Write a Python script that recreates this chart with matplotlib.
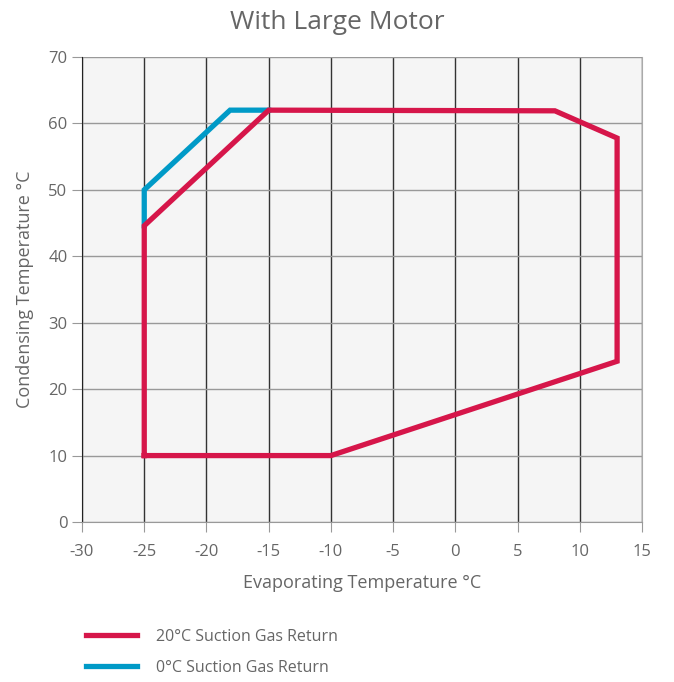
import matplotlib.pyplot as plt

plt.rcParams['font.family'] = ['Open Sans', 'DejaVu Sans']
plt.rcParams['axes.unicode_minus'] = False

# 20C suction gas return envelope
red_x = [-25, -10, 13, 13, 8, -15, -25, -25]
red_y = [10, 10, 24.2, 57.8, 61.9, 62, 44.6, 10]
# 0C suction gas return envelope (upper left part only)
blue_x = [-25, -25, -18.1, -15]
blue_y = [44.6, 50, 62, 62]

grey = '#666666'

fig = plt.figure(figsize=(6.74, 6.82), dpi=100)
ax = fig.add_axes([0.1217, 0.2346, 0.8308, 0.6818])
ax.set_facecolor('#f5f5f5')

ax.plot(blue_x, blue_y, color='#009ac7', lw=3.8, solid_joinstyle='miter', zorder=3)
ax.plot(red_x, red_y, color='#d6164a', lw=3.8, solid_joinstyle='miter', zorder=4)

ax.set_xlim(-30, 15)
ax.set_ylim(0, 70)
ax.set_xticks(range(-30, 16, 5))
ax.set_yticks(range(0, 71, 10))
ax.xaxis.grid(True, color='#333333', lw=1)
ax.yaxis.grid(True, color='#999999', lw=1)
ax.set_axisbelow(True)

ax.spines['top'].set_visible(False)
ax.spines['right'].set_color('#aaaaaa')
ax.spines['left'].set_color('#222222')
ax.spines['bottom'].set_color('#999999')
ax.tick_params(axis='both', colors='#999999', labelcolor=grey, labelsize=12, length=7)
ax.tick_params(axis='x', pad=9)

ax.set_xlabel('Evaporating Temperature °C', color=grey, fontsize=13, labelpad=10)
ax.set_ylabel('Condensing Temperature °C', color=grey, fontsize=13, labelpad=10)
fig.suptitle('With Large Motor', color=grey, fontsize=19, y=0.985)

fig.legend(handles=ax.lines[::-1],
           labels=['20°C Suction Gas Return', '0°C Suction Gas Return'],
           loc='lower left', bbox_to_anchor=(0.106, -0.012), frameon=False,
           handlelength=3.2, handletextpad=1.2, fontsize=11.5, labelcolor=grey,
           labelspacing=0.95)

fig.savefig('out.png', dpi=100)
